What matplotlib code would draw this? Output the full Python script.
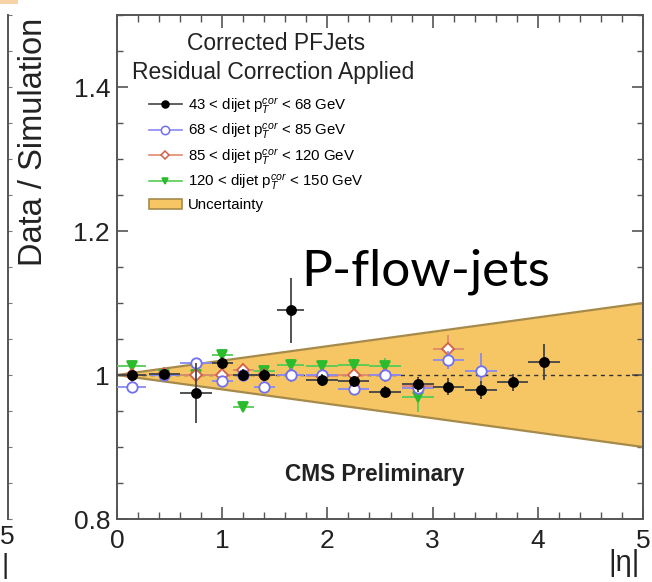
import matplotlib
matplotlib.use("Agg")
import matplotlib.pyplot as plt
from matplotlib.lines import Line2D
from matplotlib.patches import Patch, Rectangle
from matplotlib.ticker import MultipleLocator, FixedLocator, FixedFormatter

plt.rcParams['font.family'] = ['Liberation Sans', 'DejaVu Sans']
plt.rcParams['mathtext.fontset'] = 'custom'
plt.rcParams['mathtext.rm'] = 'Liberation Sans'
plt.rcParams['mathtext.it'] = 'Liberation Sans:italic'

# |eta| bin centres and half widths
eta = [0.14, 0.45, 0.75, 1.00, 1.20, 1.40, 1.65, 1.95, 2.25, 2.55, 2.86, 3.15, 3.46, 3.76, 4.06]
eta_half = [0.14, 0.15, 0.15, 0.10, 0.10, 0.10, 0.13, 0.15, 0.15, 0.15, 0.15, 0.15, 0.15, 0.15, 0.15]

# Data / Simulation ratios per dijet pT bin
r_43_68 = [1.000, 1.002, 0.975, 1.017, 1.000, 1.000, 1.090, 0.993, 0.991, 0.977, 0.987, 0.984, 0.979, 0.990, 1.018]
e_43_68 = [0.006, 0.006, 0.042, 0.008, 0.008, 0.008, 0.045, 0.008, 0.008, 0.008, 0.010, 0.012, 0.012, 0.012, 0.025]

r_68_85 = [0.984, 1.000, 1.016, 0.991, 1.000, 0.984, 1.000, 1.000, 0.981, 1.000, 0.982, 1.021, 1.005]
e_68_85 = [0.006, 0.006, 0.008, 0.008, 0.008, 0.008, 0.010, 0.008, 0.008, 0.008, 0.010, 0.012, 0.025]

r_85_120 = [1.000, 1.002, 1.000, 1.000, 1.007, 1.000, 1.000, 0.998, 1.000, 1.000, 0.985, 1.036]
e_85_120 = [0.006, 0.006, 0.008, 0.008, 0.010, 0.008, 0.010, 0.008, 0.008, 0.008, 0.010, 0.020]

r_120_150 = [1.013, 1.000, 1.000, 1.028, 0.956, 1.005, 1.014, 1.013, 1.014, 1.013, 0.969]
e_120_150 = [0.008, 0.006, 0.008, 0.008, 0.008, 0.008, 0.008, 0.008, 0.008, 0.010, 0.020]

# residual uncertainty band: half width at the |eta| edges
unc_eta = [0.0, 5.0]
unc_half = [0.0, 0.10]

series_labels = [
    r'43 < dijet $\mathrm{p}_{T}^{cor}$ < 68 GeV',
    r'68 < dijet $\mathrm{p}_{T}^{cor}$ < 85 GeV',
    r'85 < dijet $\mathrm{p}_{T}^{cor}$ < 120 GeV',
    r'120 < dijet $\mathrm{p}_{T}^{cor}$ < 150 GeV',
]

W, H = 652, 582
fig = plt.figure(figsize=(W / 100, H / 100), dpi=100)

def px_rect(x0, y0, x1, y1):
    return [x0 / W, 1 - y1 / H, (x1 - x0) / W, (y1 - y0) / H]

ax = fig.add_axes(px_rect(117, 15, 643, 519))
ax.set_xlim(0, 5)
ax.set_ylim(0.8, 1.5)

band_col = '#f6c665'
edge_col = '#a68a4a'
lo = [1 - h for h in unc_half]
hi = [1 + h for h in unc_half]
ax.fill_between(unc_eta, lo, hi, color=band_col, lw=0, zorder=1)
ax.plot(unc_eta, hi, color=edge_col, lw=1.6, zorder=2)
ax.plot(unc_eta, lo, color=edge_col, lw=1.6, zorder=2)
ax.axhline(1.0, color='#333333', lw=1.0, ls=(0, (3, 3)), zorder=2)

styles = [
    dict(color='black', marker='o', ms=6.5, mfc='black', ecolor='#444444'),
    dict(color='#6f6ff0', marker='o', ms=7.5, mfc='white', ecolor='#8a8af2'),
    dict(color='#d2604a', marker='D', ms=6, mfc='white', ecolor='#e08a70'),
    dict(color='#2cbb2c', marker='v', ms=6.5, mfc='#2cbb2c', ecolor='#55cc55'),
]
values = [(r_43_68, e_43_68), (r_68_85, e_68_85), (r_85_120, e_85_120), (r_120_150, e_120_150)]
for k in [3, 2, 1, 0]:
    vals, errs = values[k]
    n = len(vals)
    st = styles[k]
    ax.errorbar(eta[:n], vals, xerr=eta_half[:n], yerr=errs, fmt='none',
                ecolor=st['ecolor'], elinewidth=1.3, capsize=0, zorder=3 + (3 - k))
    ax.plot(eta[:n], vals, ls='none', marker=st['marker'], ms=st['ms'],
            mfc=st['mfc'], mec=st['color'], mew=1.3, zorder=4 + (3 - k))

# legend entries
handles = []
for k in range(4):
    st = styles[k]
    handles.append(Line2D([], [], color=st['ecolor'], lw=1.2, marker=st['marker'],
                          ms=st['ms'] - 1.5, mfc=st['mfc'], mec=st['color'], mew=1.1))
handles.append(Patch(facecolor=band_col, edgecolor=edge_col, lw=1.2))
leg = ax.legend(handles, series_labels + ['Uncertainty'], loc='upper left',
                bbox_to_anchor=(0.060, 0.840), frameon=False, fontsize=10.8,
                handlelength=2.2, handletextpad=0.45, labelspacing=0.38,
                borderpad=0, borderaxespad=0)

fig.text(276 / W, 1 - 43 / H, 'Corrected PFJets', fontsize=16.5, ha='center', va='center', color='#222222')
fig.text(273 / W, 1 - 72 / H, 'Residual Correction Applied', fontsize=16.5, ha='center', va='center', color='#222222')
fig.text(375 / W, 1 - 474 / H, 'CMS Preliminary', fontsize=16.3, fontweight='bold', ha='center', va='center', color='#222222')
fig.text(426 / W, 1 - 272 / H, 'P-flow-jets', fontsize=37, family=['Lato', 'DejaVu Sans'],
         ha='center', va='center', color='black')

# axis styling
for s in ax.spines.values():
    s.set_color('#555555')
    s.set_linewidth(1.4)
ax.xaxis.set_major_locator(MultipleLocator(1))
ax.xaxis.set_minor_locator(MultipleLocator(0.2))
ax.yaxis.set_major_locator(FixedLocator([0.8, 1.0, 1.2, 1.4]))
ax.yaxis.set_major_formatter(FixedFormatter(['0.8', '1', '1.2', '1.4']))
ax.yaxis.set_minor_locator(MultipleLocator(0.05))
ax.tick_params(axis='both', which='both', direction='in', top=True, right=True,
               colors='#555555', labelcolor='#222222', labelsize=19)
ax.tick_params(axis='x', which='major', length=9, width=1.2, pad=7)
ax.tick_params(axis='x', which='minor', length=5, width=1.0)
ax.tick_params(axis='y', which='major', length=8, width=1.2, pad=5)
ax.tick_params(axis='y', which='minor', length=4.5, width=1.0)

ax.set_ylabel('Data / Simulation', fontsize=23.5, loc='top', color='#222222')
ax.yaxis.set_label_coords(-0.129, 0.995)
fig.text(624 / W, 1 - 563 / H, '|η|', fontsize=21, ha='center', va='center', color='#222222')

# neighbouring panel edge on the left
axl = fig.add_axes(px_rect(-300, 15, 8, 519))
axl.set_ylim(0.8, 1.5)
axl.set_xticks([])
for side in ['left', 'top', 'bottom']:
    axl.spines[side].set_visible(False)
axl.spines['right'].set_color('#555555')
axl.spines['right'].set_linewidth(1.4)
axl.yaxis.tick_right()
axl.yaxis.set_major_locator(MultipleLocator(0.05))
axl.tick_params(axis='y', direction='out', length=3, width=0.8, colors='#777777', labelright=False)
fig.text(7 / W, 1 - 537 / H, '5', fontsize=19, ha='center', va='center', color='#222222')
fig.text(5 / W, 1 - 566 / H, '|', fontsize=20, ha='center', va='center', color='#222222')
fig.add_artist(Rectangle((0, 1 - 4 / H), 18 / W, 4 / H, transform=fig.transFigure,
                         color='#f7d2a6', lw=0))

fig.savefig('out.png', dpi=100)
